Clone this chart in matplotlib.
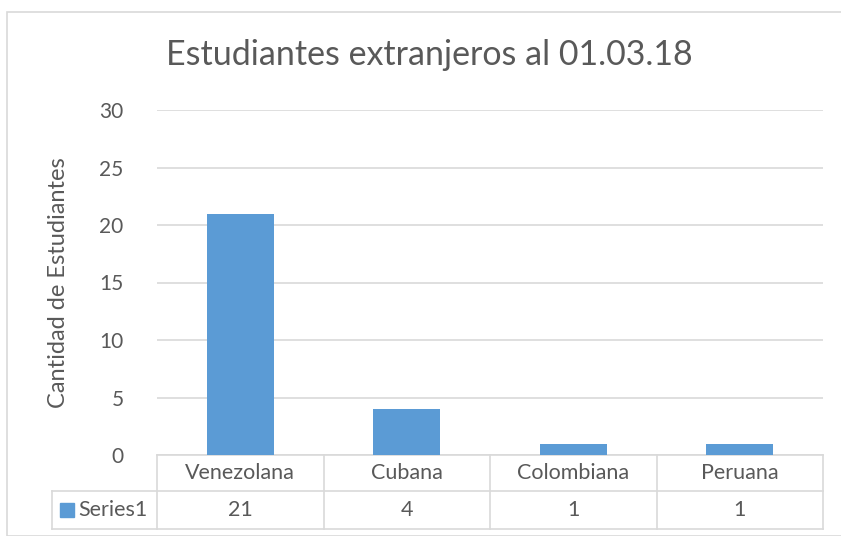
import matplotlib.pyplot as plt
from matplotlib.patches import Rectangle
import numpy as np

categories = ["Venezolana", "Cubana", "Colombiana", "Peruana"]
values = [21, 4, 1, 1]
series_name = "Series1"
title = "Estudiantes extranjeros al 01.03.18"
ylabel = "Cantidad de Estudiantes"
yticks = [0, 5, 10, 15, 20, 25, 30]

plt.rcParams['font.family'] = ['Lato', 'DejaVu Sans']
txt = '#595959'
grid = '#d9d9d9'
bar_c = '#5b9bd5'

W, H = 841, 536
fig = plt.figure(figsize=(W / 100, H / 100), dpi=100)
fig.patches.append(Rectangle((7 / W, 0), 1, 1 - 12 / H, transform=fig.transFigure,
                             fill=False, edgecolor=grid, lw=1.2))

x0, x1, ytop, ybot = 157, 823, 110, 455
ax = fig.add_axes([x0 / W, 1 - ybot / H, (x1 - x0) / W, (ybot - ytop) / H])
x = np.arange(len(categories))
ax.bar(x, values, width=0.4, color=bar_c, zorder=3)
ax.set_xlim(-0.5, len(categories) - 0.5)
ax.set_ylim(0, 30)
ax.set_yticks(yticks)
ax.set_xticks([])
ax.tick_params(axis='y', length=0, pad=24, labelsize=15, labelcolor=txt)
ax.grid(axis='y', color=grid, lw=1.2, zorder=0)
for s in ax.spines.values():
    s.set_visible(False)
ax.set_ylabel(ylabel, fontsize=17, color=txt, labelpad=22)
fig.text(429 / W, 1 - 55 / H, title, ha='center', va='center', fontsize=24.5, color=txt)

# data table below the axis
px = 166.5  # pixels per category
tr = ax.get_xaxis_transform()
r1 = -36 / (ybot - ytop)
r2 = -74 / (ybot - ytop)
left = -0.5 - 105 / px
kw = dict(transform=tr, clip_on=False, color=grid, lw=1.2)
ax.plot([-0.5, 3.5], [0, 0], **kw)
ax.plot([left, 3.5], [r1, r1], **kw)
ax.plot([left, 3.5], [r2, r2], **kw)
ax.plot([left, left], [r1, r2], **kw)
for b in np.arange(-0.5, len(categories)):
    ax.plot([b, b], [0, r2], **kw)
for i, (c, v) in enumerate(zip(categories, values)):
    ax.text(i, r1 / 2, c, transform=tr, ha='center', va='center', fontsize=15.5, color=txt)
    ax.text(i, (r1 + r2) / 2, str(v), transform=tr, ha='center', va='center', fontsize=15.5, color=txt)
kh = 14 / (ybot - ytop)
ax.add_patch(Rectangle((left + 8 / px, (r1 + r2) / 2 - kh / 2), 14 / px, kh,
                       transform=tr, clip_on=False, color=bar_c))
ax.text(left + 26 / px, (r1 + r2) / 2, series_name, transform=tr, ha='left', va='center',
        fontsize=15.5, color=txt)

fig.savefig('out.png', dpi=100)
